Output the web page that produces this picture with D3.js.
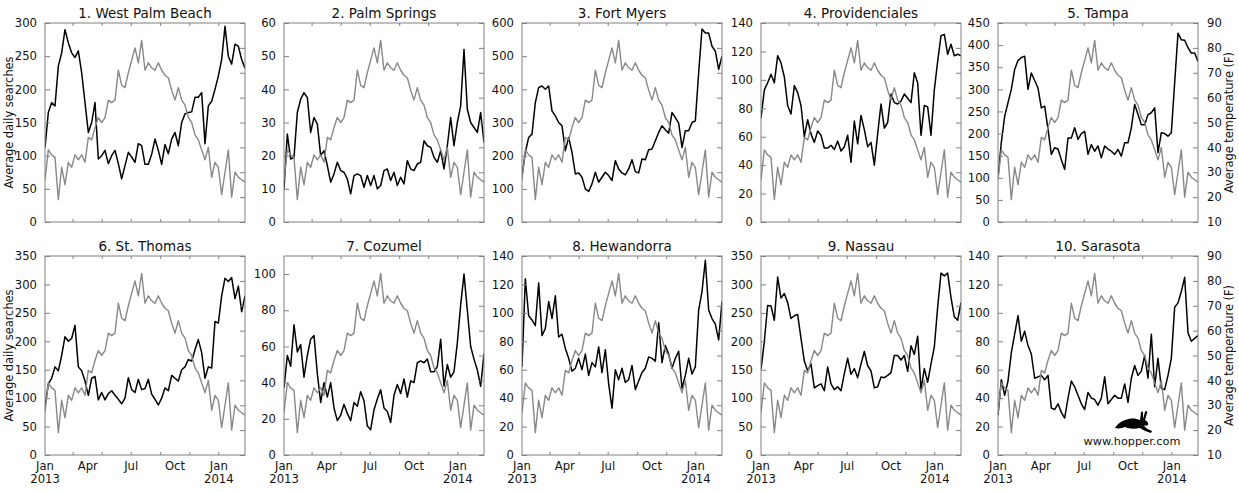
<!DOCTYPE html>
<html>
<head>
<meta charset="utf-8">
<script src="https://cdn.jsdelivr.net/npm/d3@7"></script>
<style>
  html, body { margin: 0; padding: 0; background: #fff; }
  svg { display: block; font-family: "DejaVu Sans", sans-serif; }
</style>
</head>
<body>
<svg id="chart" width="1239" height="492"></svg>
<script>
// ---------------- DATA ----------------
const cities = ["1. West Palm Beach", "2. Palm Springs", "3. Fort Myers", "4. Providenciales", "5. Tampa",
                "6. St. Thomas", "7. Cozumel", "8. Hewandorra", "9. Nassau", "10. Sarasota"];
const yMax  = [300, 60, 600, 140, 450, 350, 110, 140, 350, 140];
const yStep = [50, 10, 100, 20, 50, 50, 20, 20, 50, 20];
const tempTicks = [10, 20, 30, 40, 50, 60, 70, 80, 90];
const xTickLabels = [["Jan", "2013"], ["Apr"], ["Jul"], ["Oct"], ["Jan", "2014"]];
const xTickDates = ["2013-01-01", "2013-04-01", "2013-07-01", "2013-10-01", "2014-01-01"];
const xMinorDates = ["2013-03-01", "2013-05-01", "2013-07-01", "2013-09-01", "2013-11-01", "2014-01-01"];
const startDate = "2013-01-01";

// average temperature (F), weekly
const temperature = [27,39,37,36,19,32,25,34,32,37, 35,37,34,44,43,48,52,50,52,59,
  58,59,71,65,64,70,75,80,74,83, 71,74,72,71,74,71,69,68,63,59,
  64,59,57,52,50,45,43,39,35,40, 28,34,32,21,30,39,20,30,28,27, 26];

// average daily searches, weekly
const westPalmBeach = [112,165,180,175,235,255,290,270,255,248, 258,225,180,135,150,180,95,100,108,88,
  100,108,88,65,85,105,98,90,118,115, 87,87,102,125,108,87,117,103,125,135,
  115,150,163,165,166,188,188,195,118,175, 182,200,220,245,295,250,238,268,265,245, 232];
const palmSprings = [10,26.5,19,19.5,33,37,39,37.5,27,31.5, 29.5,20,21.5,17,12,14.5,18,15.5,15,13,
  8.5,14,14.5,14,10.5,14,11,14,10,11, 15.5,16,12.5,15,11,13.5,11.5,18.5,16,15.5,
  17.5,18,24.5,23,22.5,19.5,18,21.5,16,23, 31.5,23,30,35,52,34,30,28.5,27,33, 24];
const fortMyers = [140,210,255,265,360,405,410,400,410,335, 320,300,290,215,255,210,145,148,135,100,
  92,115,150,120,135,150,140,125,185,160, 148,142,160,188,152,148,190,188,218,220,
  245,270,290,278,268,330,315,298,225,275, 275,300,305,450,582,570,570,530,515,460, 500];
const providenciales = [73,93,98,104,98,117,112,102,82,76, 96,91,82,60,72,62,56,64,61,52,
  52,54,51,57,50,53,61,42,71,55, 75,65,53,56,40,62,83,66,70,90,
  84,83,85,90,87,84,105,98,61,82, 81,61,93,113,131,132,118,125,117,118, 117];
const tampa = [100,180,239,270,300,345,365,372,375,300, 337,320,303,258,262,210,153,168,165,141,
  119,190,190,213,187,200,205,153,175,160, 172,145,172,165,160,153,164,149,179,179,
  213,266,243,220,220,243,247,258,157,202, 200,194,202,315,427,412,411,394,382,382, 363];
const stThomas = [85,125,135,155,148,175,208,200,205,228, 155,148,130,105,135,138,97,110,97,108,
  113,105,98,90,100,136,115,110,133,115, 117,133,107,98,88,100,118,113,140,135,
  130,150,155,168,165,185,203,180,135,155, 153,235,232,280,311,305,312,275,297,252, 280];
const cozumel = [37,55,49,72,57,61,43,55,64,66, 45,29,40,32,40,26,19,22,28,23,
  19,29,27,35,30,16,14,25,31,36, 26,24,18,33,39,34,42,32,41,40,
  51,52,51,53,46,46,49,64,38,50, 43,46,62,83,100,80,60,53,47,38, 56];
const hewandorra = [62,124,98,95,91,121,84,89,108,96, 112,83,85,75,68,59,61,68,60,71,
  56,65,62,76,58,74,50,33,60,53, 61,51,53,63,46,52,58,61,69,68,
  66,93,65,77,71,61,68,73,47,56, 68,57,62,102,115,137,102,96,92,81, 108];
const nassau = [150,200,263,262,237,313,276,284,268,240, 245,247,205,165,148,160,118,122,125,113,
  155,125,115,120,113,143,170,142,152,136, 160,182,157,148,118,120,137,136,140,145,
  175,175,167,175,147,192,177,209,115,152, 128,160,190,260,320,315,320,277,243,237, 268];
const sarasota = [28,53,42,52,72,85,98,80,87,77, 71,54,55,56,53,56,33,32,36,30,
  26,40,52,48,42,36,32,44,40,39, 35,40,55,36,39,42,40,40,50,37,
  54,63,56,59,70,54,85,48,68,47, 46,56,68,104,107,115,125,86,80,82, 84];

const searches = [westPalmBeach, palmSprings, fortMyers, providenciales, tampa,
                  stThomas, cozumel, hewandorra, nassau, sarasota];

// ---------------- LAYOUT ----------------
const svg = d3.select("#chart");
const colLeft = [45, 284, 522, 761, 998];
const rowTop = [23, 256];
const pw = 200, ph = 199;
const frameColor = "#808080";
const tickLen = 5, minorLen = 3;
const parse = d3.utcParse("%Y-%m-%d");
const t0 = parse(startDate);
const dates = temperature.map((_, i) => d3.utcDay.offset(t0, 7 * i));

cities.forEach((name, idx) => {
  const row = Math.floor(idx / 5), col = idx % 5;
  const x0 = colLeft[col], y0 = rowTop[row];
  const g = svg.append("g").attr("transform", `translate(${x0},${y0})`);

  const x = d3.scaleUtc().domain([dates[0], dates[dates.length - 1]]).range([0, pw]);
  const y = d3.scaleLinear().domain([0, yMax[idx]]).range([ph, 0]);
  const yT = d3.scaleLinear().domain([10, 90]).range([ph, 0]);

  const clipId = "clip" + idx;
  g.append("clipPath").attr("id", clipId).append("rect").attr("width", pw).attr("height", ph);

  const lineS = d3.line().x((d, i) => x(dates[i])).y(d => y(d));
  const lineT = d3.line().x((d, i) => x(dates[i])).y(d => yT(d));

  g.append("path").datum(searches[idx]).attr("d", lineS)
    .attr("fill", "none").attr("stroke", "#000").attr("stroke-width", 1.5)
    .attr("stroke-linejoin", "round").attr("clip-path", `url(#${clipId})`);
  g.append("path").datum(temperature).attr("d", lineT)
    .attr("fill", "none").attr("stroke", "#888").attr("stroke-width", 1.4)
    .attr("stroke-linejoin", "round").attr("clip-path", `url(#${clipId})`);

  // frame
  g.append("rect").attr("width", pw).attr("height", ph)
    .attr("fill", "none").attr("stroke", frameColor).attr("stroke-width", 1);

  // left y ticks
  const yTicks = d3.range(0, yMax[idx] + 0.001, yStep[idx]);
  const yAxisL = d3.axisLeft(y).tickValues(yTicks).tickSizeInner(-tickLen).tickSizeOuter(0).tickPadding(8);
  const gl = g.append("g").call(yAxisL);
  gl.select(".domain").remove();
  gl.selectAll(".tick line").attr("stroke", frameColor);
  gl.selectAll(".tick text").attr("font-size", 11.6).attr("fill", "#111")
    .attr("font-family", "DejaVu Sans");

  // right temperature ticks
  const yAxisR = d3.axisRight(yT).tickValues(tempTicks).tickSizeInner(-tickLen).tickSizeOuter(0).tickPadding(9);
  const gr = g.append("g").attr("transform", `translate(${pw},0)`).call(yAxisR);
  gr.select(".domain").remove();
  gr.selectAll(".tick line").attr("stroke", frameColor);
  if (col === 4) {
    gr.selectAll(".tick text").attr("font-size", 11.6).attr("fill", "#111")
      .attr("font-family", "DejaVu Sans");
  } else {
    gr.selectAll(".tick text").remove();
  }

  // x ticks (top and bottom)
  const minor = xMinorDates.map(parse);
  [0, ph].forEach(yy => {
    const dir = yy === 0 ? 1 : -1;
    g.append("g").selectAll("line").data(minor).join("line")
      .attr("x1", d => x(d)).attr("x2", d => x(d))
      .attr("y1", yy).attr("y2", yy + dir * minorLen)
      .attr("stroke", frameColor);
  });

  // x tick labels (bottom row only)
  if (row === 1) {
    const lab = g.append("g").attr("font-size", 11.6).attr("fill", "#111").attr("text-anchor", "middle");
    xTickDates.forEach((ds, i) => {
      const t = lab.append("text").attr("x", x(parse(ds))).attr("y", ph + 15);
      xTickLabels[i].forEach((s, j) => {
        t.append("tspan").attr("x", x(parse(ds))).attr("dy", j === 0 ? 0 : 13).text(s);
      });
    });
  }

  // title
  g.append("text").attr("x", pw / 2).attr("y", -5).attr("text-anchor", "middle")
    .attr("font-size", 13.5).attr("fill", "#111").text(name);

  // axis labels
  if (col === 0) {
    g.append("text").attr("transform", `translate(${-32},${ph / 2}) rotate(-90)`)
      .attr("text-anchor", "middle").attr("font-size", 11.4).attr("fill", "#111")
      .text("Average daily searches");
  }
  if (col === 4) {
    g.append("text").attr("transform", `translate(${pw + 35},${ph / 2}) rotate(-90)`)
      .attr("text-anchor", "middle").attr("font-size", 11.4).attr("fill", "#111")
      .text("Average temperature (F)");
  }

  // hopper logo
  if (idx === 9) {
    const lg = g.append("g").attr("transform", `translate(${116},${155})`);
    lg.append("path")
      .attr("d", "M1,17 C4,12 9,9 15,8 C19,7 23,8 26,9 L27,2 C27,0 29,0 29,2 L29,8 L31,1 C32,-1 34,0 33,2 L31,9 C33,10 35,12 34,14 C32,15 31,14 30,15 C32,17 35,19 38,20 L37,22 C33,21 29,19 26,17 C21,18 15,18 11,16 C8,17 5,18 1,17 Z")
      .attr("fill", "#000");
    g.append("text").attr("x", 134).attr("y", 189).attr("text-anchor", "middle")
      .attr("font-size", 11.3).attr("fill", "#111").text("www.hopper.com");
  }
});
</script>
</body>
</html>
